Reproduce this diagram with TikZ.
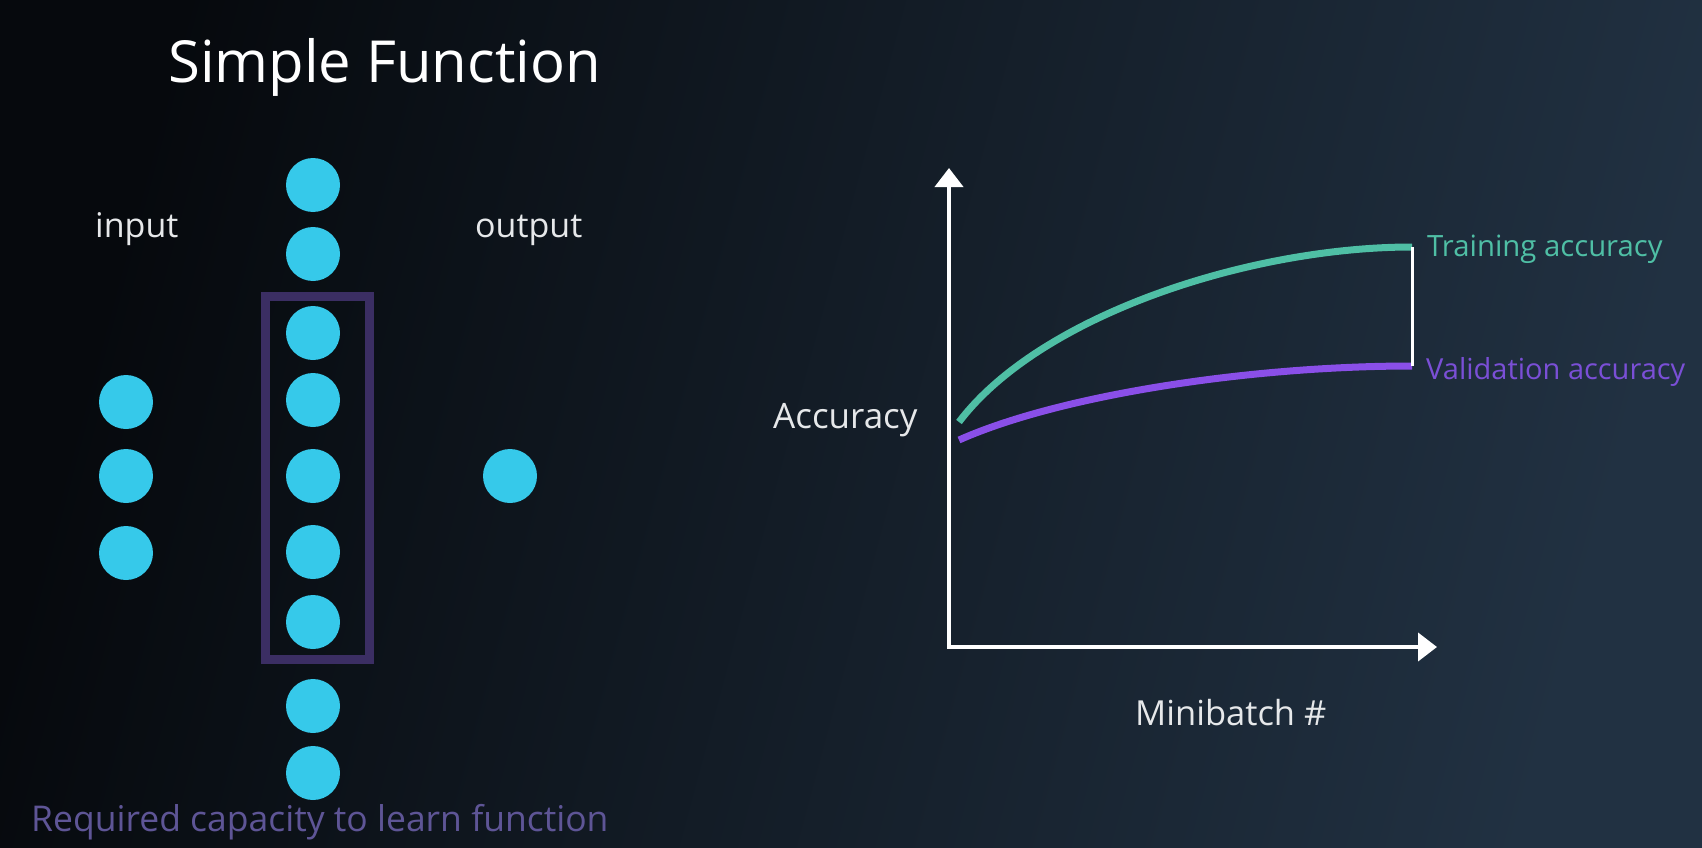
\documentclass[tikz,border=0pt]{standalone}
\usepackage{fontspec}
\setmainfont{Open Sans}
\usetikzlibrary{arrows.meta}

\definecolor{bgdark}{HTML}{06090D}
\definecolor{bglight}{HTML}{213142}
\definecolor{neuron}{HTML}{36C9EA}
\definecolor{capbox}{HTML}{3B2E63}
\definecolor{captext}{HTML}{5E5596}
\definecolor{traincol}{HTML}{4FBFA5}
\definecolor{validcol}{HTML}{8A4FE8}
\definecolor{validtext}{HTML}{7A4FD6}
\definecolor{labelcol}{HTML}{E6E8EA}

\tikzset{
  neuronnode/.style={circle, fill=neuron, draw=none, minimum size=54pt, inner sep=0pt},
  label text/.style={text=labelcol, inner sep=0pt, anchor=base west},
  axisline/.style={draw=white, line width=4pt, -{Triangle[length=19pt,width=28pt]}},
  curveline/.style={line width=7pt},
}

\begin{document}
\begin{tikzpicture}[x=1pt, y=-1pt]
  % background
  \shade[left color=bgdark, right color=bglight, shading angle=75] (0,0) rectangle (1702,848);
  \useasboundingbox (0,0) rectangle (1702,848);

  % title and layer labels
  \node[label text, text=white, font=\fontsize{58}{60}\selectfont] (title) at (168,83) {Simple Function};
  \node[label text, font=\fontsize{34}{36}\selectfont] (inlabel) at (95,237) {input};
  \node[label text, font=\fontsize{34}{36}\selectfont] (outlabel) at (475,237) {output};

  % capacity box around the hidden units
  \node[draw=capbox, line width=9pt, minimum width=104pt, minimum height=363pt, inner sep=0pt] (capacity) at (317,477.5) {};

  % input layer
  \foreach \i/\y in {1/402, 2/476, 3/553}
    \node[neuronnode] (in\i) at (126,\y) {};

  % hidden layer
  \foreach \i/\y in {1/185, 2/254, 3/333, 4/400, 5/476, 6/552, 7/622, 8/706, 9/773}
    \node[neuronnode] (h\i) at (313,\y) {};

  % output layer
  \node[neuronnode] (out1) at (510,476) {};

  \node[label text, text=captext, font=\fontsize{35.5}{37}\selectfont] (capnote) at (31,831) {Required capacity to learn function};

  % accuracy plot
  \coordinate (origin) at (949,647);
  \coordinate (ytip) at (949,168);
  \coordinate (xtip) at (1437,647);
  \draw[axisline] (origin) -- (ytip);
  \draw[axisline] ([xshift=-2pt]origin) -- (xtip);

  \coordinate (trainstart) at (959,422);
  \coordinate (trainend) at (1412,247);
  \coordinate (validstart) at (959,440);
  \coordinate (validend) at (1412,366);

  \draw[curveline, draw=traincol] (trainstart) .. controls (1040,315) and (1250,247) .. (trainend);
  \draw[curveline, draw=validcol] (validstart) .. controls (1060,395) and (1250,366) .. (validend);
  \draw[draw=white, line width=3pt] (trainend) -- (validend);

  \node[label text, text=traincol, font=\fontsize{29.3}{31}\selectfont] (trainlabel) at (1427,256) {Training accuracy};
  \node[label text, text=validtext, font=\fontsize{29}{31}\selectfont] (validlabel) at (1426,379) {Validation accuracy};
  \node[label text, font=\fontsize{35}{37}\selectfont] (ylabel) at (773,428) {Accuracy};
  \node[label text, font=\fontsize{34.5}{36}\selectfont] (xlabel) at (1135,725) {Minibatch \#};
\end{tikzpicture}
\end{document}
